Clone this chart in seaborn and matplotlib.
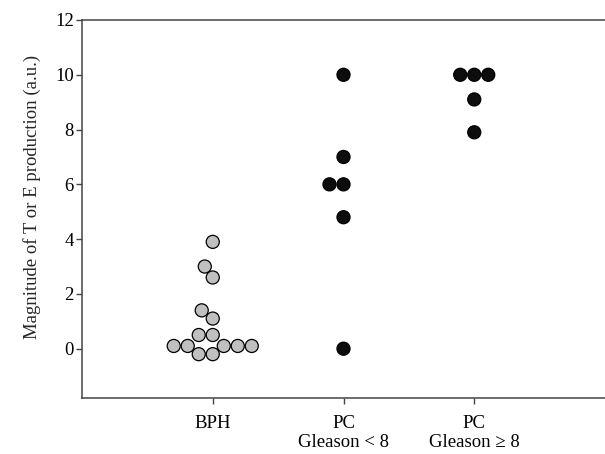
import matplotlib
matplotlib.use("Agg")
import matplotlib.pyplot as plt
import seaborn as sns
import pandas as pd

categories = ["BPH", "PC\nGleason < 8", "PC\nGleason \u2265 8"]
bph_values = [3.9, 3.0, 2.6, 1.4, 1.1, 0.5, 0.5, 0.1, 0.1, 0.1, 0.1, 0.1, -0.2, -0.2]
pc_low_values = [10.0, 7.0, 6.0, 6.0, 4.8, 0.0]
pc_high_values = [10.0, 10.0, 10.0, 9.1, 7.9]
y_ticks = [0, 2, 4, 6, 8, 10, 12]
y_label = "Magnitude of T or E production (a.u.)"

df = pd.DataFrame({
    "group": [categories[0]] * len(bph_values)
    + [categories[1]] * len(pc_low_values)
    + [categories[2]] * len(pc_high_values),
    "value": bph_values + pc_low_values + pc_high_values,
})

sns.set_style("white")
plt.rcParams["font.family"] = ["Liberation Serif", "DejaVu Serif"]

fig = plt.figure(figsize=(6.05, 4.54), dpi=100)
ax = fig.add_axes([82 / 605, 1 - 398 / 454, 1 - 82 / 605, (398 - 20) / 454])
ax.set_xlim(-1, 3)
ax.set_ylim(-1.8, 12)

palette = {categories[0]: "#c0c0c0", categories[1]: "#0d0d0d", categories[2]: "#0d0d0d"}
sns.swarmplot(data=df, x="group", y="value", hue="group", order=categories,
              palette=palette, size=8.7, edgecolor="black", linewidth=0.9,
              legend=False, ax=ax)
# freeze the swarm layout, then draw markers a bit larger so they overlap
for coll in ax.collections:
    if "draw" in coll.__dict__:
        del coll.draw
    coll.set_sizes([9.4 ** 2])

ax.set_xlim(-1, 3)
ax.set_ylim(-1.8, 12)
ax.set_yticks(y_ticks)
ax.set_yticklabels([str(t) for t in y_ticks])
ax.set_xlabel("")
ax.set_ylabel(y_label, fontsize=13.5)
ax.yaxis.set_label_coords(-0.079, 0.532)

for side in ["left", "bottom", "top"]:
    ax.spines[side].set_visible(True)
    ax.spines[side].set_color("#444444")
    ax.spines[side].set_linewidth(1.1)
ax.spines["right"].set_visible(False)

ax.tick_params(axis="both", direction="out", length=4, width=1, color="#444444",
               labelsize=13.5, labelcolor="black", left=True, bottom=True)
ax.tick_params(axis="x", pad=8)
ax.tick_params(axis="y", pad=2)

fig.savefig("out.png", dpi=100)
